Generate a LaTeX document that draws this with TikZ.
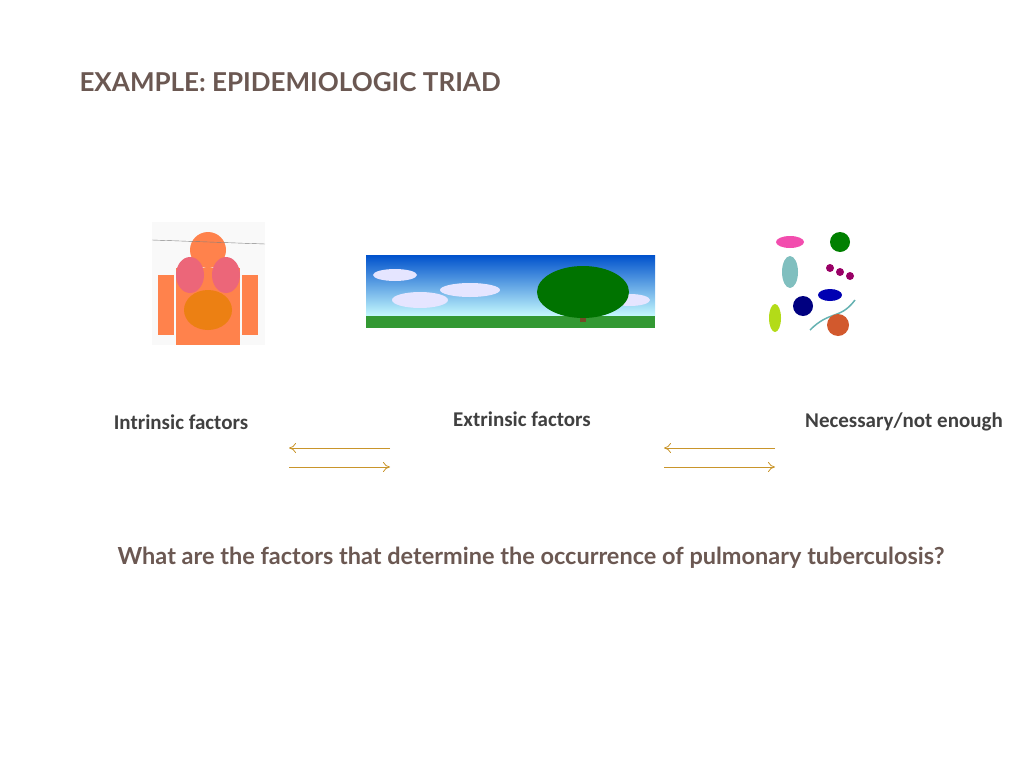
\documentclass[tikz,border=0pt]{standalone}
\usepackage{fontspec}
\setmainfont{Carlito}
\newfontfamily\titlefont{Lato}
\usetikzlibrary{arrows.meta}
\definecolor{titlec}{HTML}{6B5852}
\definecolor{labc}{HTML}{404040}
\definecolor{arrc}{HTML}{C9952B}
\begin{document}
\begin{tikzpicture}[x=1pt,y=-1pt,
  lab/.style={font=\bfseries\fontsize{21}{24}\selectfont,text=labc},
  arr/.style={draw=arrc,line width=0.8pt,-{To[length=7pt,width=10pt]}}]
\useasboundingbox (0,0) rectangle (1024,768);
\node[anchor=west,font=\titlefont\bfseries\fontsize{26}{30}\selectfont,text=titlec] (title) at (76,82) {EXAMPLE: EPIDEMIOLOGIC TRIAD};
% body picture
\fill[white!95!gray] (152,222) rectangle (265,345);
\fill[orange!60!red!70!white] (208,250) circle (18);
\fill[orange!60!red!70!white] (176,268) rectangle (240,345);
\fill[orange!60!red!70!white] (158,275) rectangle (174,335);
\fill[orange!60!red!70!white] (242,275) rectangle (258,335);
\fill[red!50!purple!60] (190,275) ellipse (14 and 18);
\fill[red!50!purple!60] (226,275) ellipse (14 and 18);
\fill[orange!70!brown] (208,310) ellipse (24 and 20);
\draw[gray] (152,240)--(265,244);
\node (body) at (208,283) {};
% landscape
\shade[top color=blue!60!cyan!80!black,bottom color=cyan!20] (366,255) rectangle (655,318);
\fill[green!50!black!80] (366,316) rectangle (655,328);
\fill[white!90!blue] (395,275) ellipse (22 and 6) (470,290) ellipse (30 and 7) (630,300) ellipse (20 and 6) (420,300) ellipse (28 and 8);
\fill[brown!60!black] (580,300) rectangle (586,322);
\fill[green!45!black] (583,292) ellipse (46 and 26);
\node (land) at (510,292) {};
% microbes
\fill[magenta!70] (790,242) ellipse (14 and 6);
\fill[green!50!black] (840,242) circle (10);
\fill[teal!50] (790,272) ellipse (8 and 16);
\fill[purple!80!blue] (830,268) circle (4) (840,272) circle (4) (850,276) circle (4);
\fill[blue!70!black] (830,295) ellipse (12 and 6);
\fill[blue!50!black] (803,306) circle (10);
\fill[yellow!70!green] (775,318) ellipse (6 and 14);
\draw[teal!60,line width=1.5pt] (810,330) .. controls (830,310) and (840,320) .. (855,300);
\fill[brown!70!red] (838,325) circle (11);
\node (mic) at (810,283) {};
% labels
\node[lab] (intr) at (181,422) {Intrinsic factors};
\node[lab] (extr) at (522,419) {Extrinsic factors};
\node[lab] (nec) at (904,422) {Necessary/not enough};
% arrows
\coordinate (a1) at (390,448); \coordinate (a2) at (289,448);
\coordinate (a3) at (289,467); \coordinate (a4) at (390,467);
\coordinate (b1) at (775,448); \coordinate (b2) at (664,448);
\coordinate (b3) at (664,467); \coordinate (b4) at (775,467);
\draw[arr] (a1)--(a2); \draw[arr] (a3)--(a4);
\draw[arr] (b1)--(b2); \draw[arr] (b3)--(b4);
\node[font=\titlefont\bfseries\fontsize{23.5}{27}\selectfont,text=titlec] (q) at (531,558) {What are the factors that determine the occurrence of pulmonary tuberculosis?};
\end{tikzpicture}
\end{document}
